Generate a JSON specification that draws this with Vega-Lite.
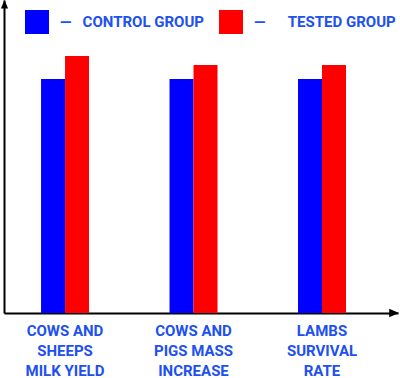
{
  "$schema": "https://vega.github.io/schema/vega-lite/v6.json",
  "autosize": {"type": "none"},
  "padding": {"left": 4, "top": 0, "right": 2, "bottom": 65},
  "width": 394,
  "height": 313,
  "config": {"view": {"stroke": null}, "font": "Roboto"},
  "data": {
    "values": [
      {"category": "COWS AND SHEEPS MILK YIELD", "group": "CONTROL GROUP", "value": 74.8},
      {"category": "COWS AND SHEEPS MILK YIELD", "group": "TESTED GROUP", "value": 82.1},
      {"category": "COWS AND PIGS MASS INCREASE", "group": "CONTROL GROUP", "value": 74.8},
      {"category": "COWS AND PIGS MASS INCREASE", "group": "TESTED GROUP", "value": 79.2},
      {"category": "LAMBS SURVIVAL RATE", "group": "CONTROL GROUP", "value": 74.8},
      {"category": "LAMBS SURVIVAL RATE", "group": "TESTED GROUP", "value": 79.2}
    ]
  },
  "layer": [
    {
      "mark": {"type": "bar"},
      "encoding": {
        "x": {
          "field": "category",
          "type": "nominal",
          "sort": null,
          "scale": {"paddingInner": 0.6265, "paddingOuter": 0.3465, "align": 0.416},
          "axis": {
            "title": null,
            "ticks": false,
            "tickSize": 0,
            "labelAngle": 0,
            "domainColor": "black",
            "domainWidth": 2,
            "labelColor": "#2050ee",
            "labelFont": "Roboto",
            "labelFontWeight": "bold",
            "labelFontSize": 15,
            "labelLineHeight": 20,
            "labelPadding": 10,
            "labelBaseline": "top",
            "labelExpr": "datum.label == 'COWS AND SHEEPS MILK YIELD' ? ['COWS AND','SHEEPS','MILK YIELD'] : datum.label == 'COWS AND PIGS MASS INCREASE' ? ['COWS AND','PIGS MASS','INCREASE'] : ['LAMBS','SURVIVAL','RATE']"
          }
        },
        "xOffset": {
          "field": "group",
          "type": "nominal",
          "sort": null,
          "scale": {"paddingInner": 0, "paddingOuter": 0}
        },
        "y": {
          "field": "value",
          "type": "quantitative",
          "scale": {"domain": [0, 100], "nice": false},
          "axis": {
            "title": null,
            "ticks": false,
            "labels": false,
            "grid": false,
            "domainColor": "black",
            "domainWidth": 2
          }
        },
        "color": {
          "field": "group",
          "type": "nominal",
          "scale": {"domain": ["CONTROL GROUP", "TESTED GROUP"], "range": ["#0000ff", "#ff0000"]},
          "legend": {
            "title": null,
            "orient": "none",
            "legendX": 21,
            "legendY": 10,
            "direction": "horizontal",
            "padding": 0,
            "symbolType": "square",
            "symbolSize": 576,
            "symbolStrokeWidth": 0,
            "symbolOpacity": 1,
            "labelOffset": 11,
            "labelFont": "Roboto",
            "labelFontSize": 15,
            "labelFontWeight": "bold",
            "labelColor": "#2050ee",
            "labelLimit": 300,
            "columnPadding": 15,
            "labelExpr": "datum.label == 'CONTROL GROUP' ? '—\u00a0\u00a0\u00a0CONTROL GROUP' : '—\u00a0\u00a0\u00a0\u00a0\u00a0\u00a0TESTED GROUP'"
          }
        }
      }
    },
    {
      "data": {"values": [{}]},
      "mark": {"type": "point", "shape": "M0,0L-0.6,1.4L0.6,1.4Z", "filled": true, "color": "black", "opacity": 1, "size": 144},
      "encoding": {
        "y": {"datum": 100, "type": "quantitative"},
        "x": {"value": 0.5}
      }
    },
    {
      "data": {"values": [{}]},
      "mark": {"type": "point", "shape": "M0,0L-1.4,-0.6L-1.4,0.6Z", "filled": true, "color": "black", "opacity": 1, "size": 196},
      "encoding": {
        "y": {"datum": 0, "type": "quantitative"},
        "x": {"value": {"expr": "width + 1"}}
      }
    }
  ]
}
